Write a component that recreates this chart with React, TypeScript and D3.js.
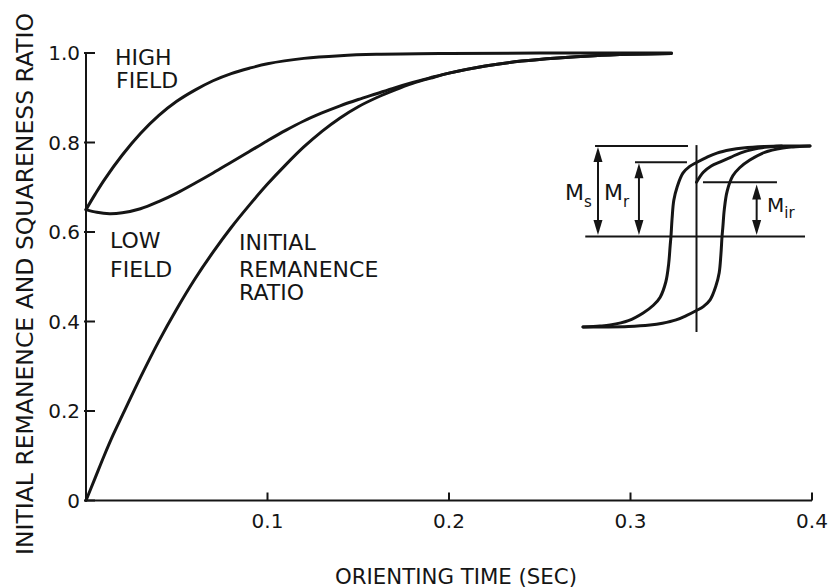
import React from 'react';
import * as d3 from 'd3';

// orienting time (sec) vs ratio
const highField: [number, number][] = [
  [0, 0.65], [0.005, 0.684], [0.01, 0.716], [0.02, 0.772], [0.03, 0.82], [0.04, 0.86],
  [0.05, 0.892], [0.06, 0.917], [0.07, 0.938], [0.08, 0.954], [0.09, 0.966], [0.1, 0.976],
  [0.12, 0.988], [0.14, 0.994], [0.16, 0.997], [0.2, 0.999], [0.25, 1.0], [0.3225, 1.0],
];
const lowField: [number, number][] = [
  [0, 0.65], [0.006, 0.644], [0.013, 0.641], [0.02, 0.643], [0.03, 0.652], [0.04, 0.668],
  [0.05, 0.687], [0.06, 0.709], [0.07, 0.732], [0.08, 0.756], [0.09, 0.78], [0.1, 0.804],
  [0.11, 0.827], [0.12, 0.848], [0.13, 0.866], [0.14, 0.882], [0.15, 0.896], [0.16, 0.909],
  [0.17, 0.922], [0.18, 0.934], [0.19, 0.945], [0.2, 0.955], [0.22, 0.971], [0.24, 0.982],
  [0.26, 0.989], [0.28, 0.994], [0.3, 0.997], [0.3225, 0.999],
];
const initialRemanence: [number, number][] = [
  [0, 0], [0.005, 0.05], [0.01, 0.1], [0.015, 0.147], [0.02, 0.19], [0.03, 0.275],
  [0.04, 0.355], [0.05, 0.428], [0.06, 0.495], [0.07, 0.555], [0.08, 0.61], [0.09, 0.66],
  [0.1, 0.707], [0.11, 0.75], [0.12, 0.79], [0.13, 0.825], [0.14, 0.855], [0.15, 0.88],
  [0.16, 0.9], [0.17, 0.917], [0.18, 0.932], [0.19, 0.944], [0.2, 0.955], [0.22, 0.971],
  [0.24, 0.982], [0.26, 0.989], [0.28, 0.994], [0.3, 0.997], [0.3225, 0.999],
];

const xTicks = [0.1, 0.2, 0.3, 0.4];
const xTickLabels = ['0.1', '0.2', '0.3', '0.4'];
const yTicks = [0, 0.2, 0.4, 0.6, 0.8, 1.0];
const yTickLabels = ['0', '0.2', '0.4', '0.6', '0.8', '1.0'];

// inset hysteresis loop, normalised field H and magnetisation M in [-1, 1]
// one branch; the other one is the same turned through the origin
const loopBranch: [number, number][] = [
  [-1, -1], [-0.85, -0.99], [-0.76, -0.978], [-0.6, -0.93], [-0.47, -0.845], [-0.38, -0.76],
  [-0.32, -0.67], [-0.27, -0.5], [-0.245, -0.3], [-0.232, -0.1], [-0.225, 0], [-0.215, 0.2],
  [-0.2, 0.4], [-0.17, 0.55], [-0.12, 0.7], [-0.06, 0.775], [0, 0.818], [0.09, 0.875],
  [0.18, 0.922], [0.3, 0.958], [0.41, 0.978], [0.6, 0.995], [0.8, 1.0], [1, 1.0],
];
const recoil: [number, number][] = [
  [0, 0.6], [0.06, 0.71], [0.13, 0.78], [0.21, 0.825], [0.3, 0.875], [0.39, 0.925],
  [0.5, 0.965], [0.6, 0.985], [0.75, 1.0],
];
const msLevel = 1.0;
const mrLevel = 0.82;
const mirLevel = 0.6;

const INK = '#151515';
const FONT = '"DejaVu Sans", sans-serif';

function Arrow({x, y1, y2}: {x: number; y1: number; y2: number}) {
  // double headed vertical arrow, y1 top, y2 bottom
  const hl = 15, hw = 4.5;
  return (
    <g>
      <line x1={x} x2={x} y1={y1 + hl - 2} y2={y2 - hl + 2} stroke={INK} strokeWidth={2} />
      <path d={`M${x},${y1}L${x - hw},${y1 + hl}L${x + hw},${y1 + hl}Z`} fill={INK} />
      <path d={`M${x},${y2}L${x - hw},${y2 - hl}L${x + hw},${y2 - hl}Z`} fill={INK} />
    </g>
  );
}

export default function App() {
  const width = 838, height = 588;
  const x = d3.scaleLinear().domain([0, 0.4]).range([86, 812]);
  const y = d3.scaleLinear().domain([0, 1]).range([500.5, 53]);

  const line = d3.line<[number, number]>()
    .x(d => x(d[0]))
    .y(d => y(d[1]))
    .curve(d3.curveCatmullRom.alpha(0.5));

  // inset scales
  const hx = d3.scaleLinear().domain([-1, 1]).range([583, 810]);
  const hy = d3.scaleLinear().domain([-1, 1]).range([327, 146]);
  const loopLine = d3.line<[number, number]>()
    .x(d => hx(d[0]))
    .y(d => hy(d[1]))
    .curve(d3.curveCatmullRom.alpha(0.5));
  const otherBranch = loopBranch.map(([h, m]) => [-h, -m] as [number, number]);

  return (
    <svg width={width} height={height} viewBox={`0 0 ${width} ${height}`}
      style={{position: 'absolute', left: 0, top: 0, background: '#fff'}}
      fontFamily={FONT} fill={INK}>
      {/* axes */}
      <line x1={x(0)} x2={x(0)} y1={y(1)} y2={y(0)} stroke={INK} strokeWidth={2} />
      <line x1={x(0)} x2={x(0.4)} y1={y(0)} y2={y(0)} stroke={INK} strokeWidth={2} />
      {yTicks.map((t, i) => (
        <g key={'yt' + i}>
          <line x1={x(0) - 2} x2={x(0) + 9} y1={y(t)} y2={y(t)} stroke={INK} strokeWidth={2} />
          <text x={x(0) - 6} y={y(t)} dy="0.36em" textAnchor="end" fontSize={20}>{yTickLabels[i]}</text>
        </g>
      ))}
      {xTicks.map((t, i) => (
        <g key={'xt' + i}>
          <line x1={x(t)} x2={x(t)} y1={y(0)} y2={y(0) - 8} stroke={INK} strokeWidth={2} />
          <text x={x(t)} y={y(0) + 27} textAnchor="middle" fontSize={20}>{xTickLabels[i]}</text>
        </g>
      ))}
      <text x={456} y={584} textAnchor="middle" fontSize={22} textLength={242} lengthAdjust="spacingAndGlyphs">
        ORIENTING TIME (SEC)
      </text>
      <text transform="translate(33,284) rotate(-90)" textAnchor="middle" fontSize={23}
        textLength={542} lengthAdjust="spacingAndGlyphs">
        INITIAL REMANENCE AND SQUARENESS RATIO
      </text>

      {/* curves */}
      <g fill="none" stroke={INK} strokeWidth={3} strokeLinecap="round">
        <path d={line(highField) ?? ''} />
        <path d={line(lowField) ?? ''} />
        <path d={line(initialRemanence) ?? ''} />
      </g>

      {/* curve labels */}
      <g fontSize={22}>
        <text x={115} y={65}>HIGH</text>
        <text x={116} y={88}>FIELD</text>
        <text x={110} y={248}>LOW</text>
        <text x={110} y={277}>FIELD</text>
        <text x={239} y={250}>INITIAL</text>
        <text x={239} y={277}>REMANENCE</text>
        <text x={239} y={300}>RATIO</text>
      </g>

      {/* inset: hysteresis loop */}
      <g stroke={INK} strokeWidth={2}>
        <line x1={hx(-0.98)} x2={hx(0.956)} y1={hy(0)} y2={hy(0)} />
        <line x1={hx(0)} x2={hx(0)} y1={hy(1.01)} y2={hy(-1.055)} />
        <line x1={hx(-0.894)} x2={hx(-0.075)} y1={hy(msLevel)} y2={hy(msLevel)} />
        <line x1={hx(-0.542)} x2={hx(-0.084)} y1={hy(mrLevel)} y2={hy(mrLevel)} />
        <line x1={hx(0.057)} x2={hx(0.709)} y1={hy(mirLevel)} y2={hy(mirLevel)} />
      </g>
      <g fill="none" stroke={INK} strokeWidth={3} strokeLinecap="round">
        <path d={loopLine(loopBranch) ?? ''} />
        <path d={loopLine(otherBranch) ?? ''} />
        <path d={loopLine(recoil) ?? ''} />
      </g>
      <Arrow x={hx(-0.868)} y1={hy(msLevel) + 1} y2={hy(0.017)} />
      <Arrow x={hx(-0.507)} y1={hy(mrLevel) + 1} y2={hy(0.017)} />
      <Arrow x={hx(0.53)} y1={hy(0.575)} y2={hy(0.017)} />
      <text x={565} y={200} fontSize={22}>M<tspan fontSize={15} dy={7}>s</tspan></text>
      <text x={604} y={200} fontSize={22}>M<tspan fontSize={15} dy={7}>r</tspan></text>
      <text x={767} y={212} fontSize={20}>M<tspan fontSize={15} dy={6}>ir</tspan></text>
    </svg>
  );
}
